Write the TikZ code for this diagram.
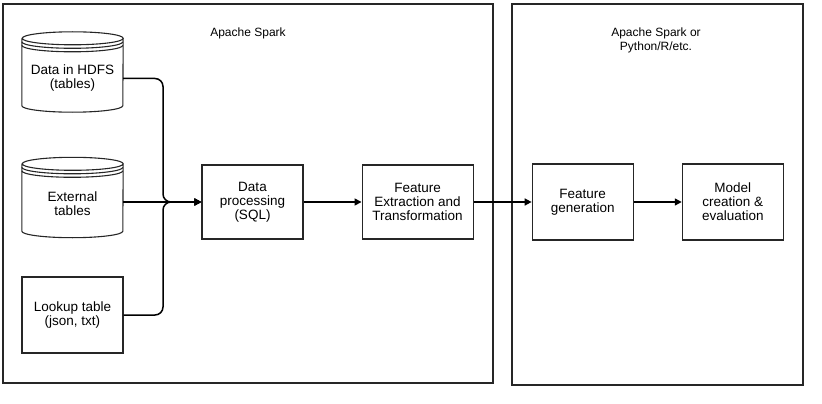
\documentclass[tikz,border=0pt]{standalone}
\usepackage{fontspec}
\setmainfont{Liberation Sans}
\usetikzlibrary{arrows.meta}
\usetikzlibrary{positioning}

\begin{document}
\begin{tikzpicture}[
				x=1pt, y=-1pt,
				font=\fontsize{12}{14}\selectfont,
				link/.style={line width=1.5pt, black, rounded corners=8pt, -{Triangle[length=7pt, width=7pt]}},
				block/.style={draw=black!85, line width=1.1pt, minimum width=101pt, minimum height=75pt, inner sep=0pt, align=center, font=\fontsize{13.5}{14}\selectfont},
				store/.style={minimum width=101pt, minimum height=67pt, inner sep=0pt, align=center, font=\fontsize{13.5}{14}\selectfont},
				frame/.style={draw=black!85, line width=1.4pt, inner sep=0pt},
				outline/.style={draw=black!85, line width=1.1pt},
			]
				\useasboundingbox (0,0) rectangle (822,404);

				% the two environments
				\node[frame, minimum width=490pt, minimum height=379pt] (spark) at (248,193.5) {};
				\node[frame, minimum width=291pt, minimum height=381pt] (mlenv) at (657.5,194.5) {};
				\node (sparktitle) at (248,33) {Apache Spark};
				\node[align=center] (mltitle) at (656,40) {Apache Spark or\\Python/R/etc.};

				% sources
				\node[store] (hdfs) at (72.5,78.5) {Data in HDFS\\(tables)};
				\node[store] (ext) at (72.5,204) {External\\tables};
				\node[block, minimum height=76pt] (lookup) at (72.5,315) {Lookup table\\(json, txt)};

				\foreach \n in {hdfs,ext}{
					\draw[outline] ([yshift=6.5pt]\n.north west) -- ([yshift=6.5pt]\n.south west)
						arc[start angle=180, end angle=360, x radius=50.5pt, y radius=6.5pt]
						-- ([yshift=6.5pt]\n.north east)
						arc[start angle=0, end angle=180, x radius=50.5pt, y radius=6.5pt]
						arc[start angle=180, end angle=360, x radius=50.5pt, y radius=6.5pt];
					\draw[outline] ([yshift=3pt]\n.north west) arc[start angle=180, end angle=360, x radius=50.5pt, y radius=6.5pt];
					\draw[outline] ([yshift=-0.5pt]\n.north west) arc[start angle=180, end angle=360, x radius=50.5pt, y radius=6.5pt];
				}

				% processing chain
				\node[block, minimum height=74pt] (dp) at (252.5,202) {Data\\processing\\(SQL)};
				\node[block, minimum width=111pt, minimum height=74pt, right=58pt of dp] (fe) {Feature\\Extraction and\\Transformation};
				\node[block, minimum height=76pt, right=58pt of fe] (fg) {Feature\\generation};
				\node[block, minimum height=76pt, right=48pt of fg] (model) {Model\\creation \&\\evaluation};

				\coordinate (merge) at (163,202);

				\draw[link] (hdfs.east) -| (merge) -- (dp.west);
				\draw[link] (ext.east |- dp.west) -- (dp.west);
				\draw[link] (lookup.east) -| (merge) -- (dp.west);

				\draw[link] (dp) -- (fe);
				\draw[link] (fe) -- (fg);
				\draw[link] (fg) -- (model);
			\end{tikzpicture}
\end{document}
